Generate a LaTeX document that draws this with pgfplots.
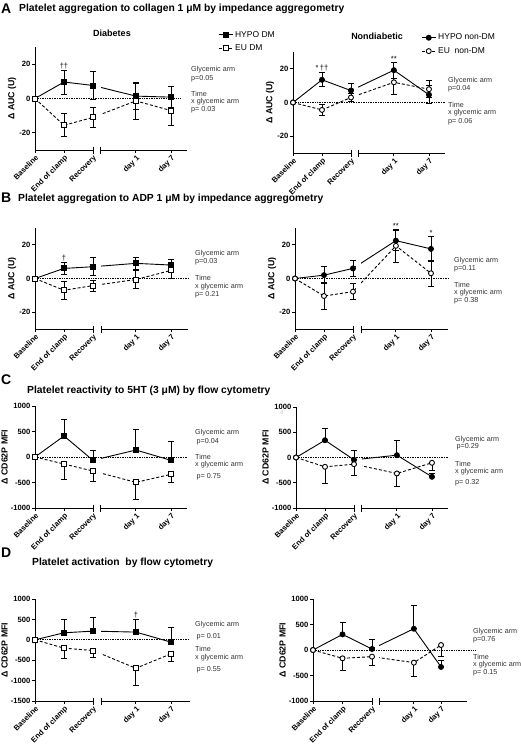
\documentclass[border=0pt]{standalone}
\usepackage{fontspec}
\setmainfont{Liberation Sans}
\usepackage{pgfplots}
\pgfplotsset{compat=1.18}

\newcommand{\tickfont}{\fontsize{7.6}{8.5}\selectfont\bfseries}
\newcommand{\labfont}{\fontsize{8.8}{9.5}\selectfont\bfseries}
\newcommand{\legfont}{\fontsize{8.5}{9.5}\selectfont}
\newcommand{\letfont}{\fontsize{14}{14}\selectfont\bfseries}
\newcommand{\titfont}{\fontsize{10.3}{11}\selectfont\bfseries}
\newcommand{\subfont}{\fontsize{9}{10}\selectfont\bfseries}

\tikzset{
  st/.style={anchor=west, inner sep=0pt, font=\fontsize{7.2}{8}\selectfont, text=black!80},
  sig/.style={anchor=south, inner sep=0.5pt, font=\fontsize{7.5}{8}\selectfont},
}

\pgfplotsset{
  panel/.style={
    scale only axis, width=152.5pt,
    xmin=0, xmax=5.26, clip=false,
    axis y line*=left, axis x line*=bottom,
    axis line style={-, line width=0.8pt},
    x axis line style={draw=none},
    tick align=outside, major tick length=3pt,
    every tick/.style={black, line width=0.8pt},
    xtick={0,1,2,3.48,4.69},
    xticklabels={Baseline,End of clamp,Recovery,day 1,day 7},
    xticklabel style={rotate=45, anchor=north east, font=\tickfont, inner sep=1pt},
    yticklabel style={font=\tickfont, inner sep=1.5pt},
    ylabel style={font=\labfont, yshift=-2pt},
    legend style={draw=none, fill=none, font=\legfont, inner sep=0pt, row sep=2pt, anchor=north west},
    legend cell align=left,
    legend image code/.code={\draw[mark repeat=2,mark phase=2,##1] plot coordinates {(0pt,0pt) (7pt,0pt) (14pt,0pt)};},
  },
  aucy/.style={ymin=-30, ymax=30, ytick={-20,0,20}, yticklabels={-20,0,20}, ylabel={Δ AUC (U)}},
  mfiy/.style={ymin=-1000, ymax=1000, ytick={-1000,-500,0,500,1000}, yticklabels={-1000,-500,0,500,1000}, ylabel={Δ CD62P MFI}},
  hypo/.style={black, solid, line width=0.9pt, mark=square*, mark size=2.5pt, mark options={solid, fill=black},
    error bars/y dir=both, error bars/y explicit,
    error bars/error bar style={solid, line width=0.8pt},
    error bars/error mark options={rotate=90, mark size=3pt, line width=0.8pt, solid}},
  eu/.style={black, line width=0.9pt, dash pattern=on 3pt off 2pt, mark=square*, mark size=2.5pt, mark options={solid, fill=white},
    error bars/y dir=both, error bars/y explicit,
    error bars/error bar style={solid, line width=0.8pt},
    error bars/error mark options={rotate=90, mark size=3pt, line width=0.8pt, solid}},
}

% ymin, ymax, break start, axis end, zero line end
\newcommand{\extras}[5]{%
  \fill[white] (axis cs:2.11,#1) rectangle (axis cs:#3,#2);
  \draw[line width=0.8pt] (axis cs:0,#1) -- (axis cs:2,#1);
  \draw[line width=0.8pt] (axis cs:#3,#1) -- (axis cs:#4,#1);
  \draw[line width=0.8pt] ([yshift=3.5pt]axis cs:2,#1) -- ([yshift=-3.5pt]axis cs:2,#1);
  \draw[line width=0.8pt] ([yshift=3.5pt]axis cs:#3,#1) -- ([yshift=-3.5pt]axis cs:#3,#1);
  \draw[densely dotted, line width=0.7pt] (axis cs:0,0) -- (axis cs:#5,0);
}

\newcommand{\stats}[8]{%
  \node[st] at (#1,-#2) {Glycemic arm};
  \node[st] at (#1,-#3) {#7};
  \node[st] at (#1,-#4) {Time};
  \node[st] at (#1,-#5) {x glycemic arm};
  \node[st] at (#1,-#6) {#8};
}

\begin{document}
\begin{tikzpicture}[x=1pt,y=1pt]
\useasboundingbox (0,0) rectangle (520,-745);

% ---------------- A ----------------
\node[anchor=west, inner sep=0pt, font=\letfont] at (1,-9) {A};
\node[anchor=west, inner sep=0pt, font=\titfont] at (19,-9) {Platelet aggregation to collagen 1 μM by impedance aggregometry};
\node[font=\subfont] at (112,-33) {Diabetes};
\node[font=\subfont] at (377,-36) {Nondiabetic};

\begin{axis}[panel, aucy, height=103pt, at={(35pt,-150pt)}, anchor=south west,
  legend style={at={(1.2,1.175)}}]
\addplot[hypo] coordinates {(0,0) +- (0,0) (1,9.6) +- (0,7) (2,7.6) +- (0,8) (3.48,1.4) +- (0,7.5) (4.69,0.8) +- (0,6)};
\addlegendentry{HYPO DM}
\addplot[eu] coordinates {(0,0) +- (0,0) (1,-15.6) +- (0,6.7) (2,-11) +- (0,6) (3.48,-1.4) +- (0,11) (4.69,-7) +- (0,8.4)};
\addlegendentry{EU DM}
\extras{-30}{30}{2.26}{5.26}{5.0}
\node[sig] at (axis cs:1,16.6) {††};
\end{axis}
\stats{191}{70}{79}{94}{102}{110}{p=0.05}{p= 0.03}

\begin{axis}[panel, aucy, height=101pt, at={(293pt,-153pt)}, anchor=south west,
  legend style={at={(0.84,1.2)}}]
\addplot[hypo, mark=*] coordinates {(0,0) +- (0,0) (1,13.5) +- (0,4.2) (2,7.1) +- (0,4.2) (3.48,19.2) +- (0,4.6) (4.69,4.6) +- (0,5.4)};
\addlegendentry{HYPO non-DM}
\addplot[eu, mark=*] coordinates {(0,0) +- (0,0) (1,-4.4) +- (0,3.3) (2,3) +- (0,2.5) (3.48,12) +- (0,7) (4.69,7.9) +- (0,5)};
\addlegendentry{EU\ \ non-DM}
\extras{-30}{30}{2.24}{5.26}{5.26}
\node[sig] at (axis cs:1,18.2) {*\,††};
\node[sig] at (axis cs:3.48,24) {**};
\end{axis}
\stats{448}{81}{89}{105}{113}{122}{p=0.04}{p= 0.06}

% ---------------- B ----------------
\node[anchor=west, inner sep=0pt, font=\letfont] at (1,-198) {B};
\node[anchor=west, inner sep=0pt, font=\titfont] at (18,-199) {Platelet aggregation to ADP 1 μM by impedance aggregometry};

\begin{axis}[panel, aucy, height=101pt, at={(35pt,-329pt)}, anchor=south west]
\addplot[hypo] coordinates {(0,0) +- (0,0) (1,6) +- (0,3.5) (2,7) +- (0,5.4) (3.48,9) +- (0,3.4) (4.69,8) +- (0,3.6)};
\addplot[eu] coordinates {(0,0) +- (0,0) (1,-7) +- (0,5.4) (2,-4.2) +- (0,3.2) (3.48,-0.6) +- (0,5.4) (4.69,4.8) +- (0,4.8)};
\extras{-30}{30}{2.28}{5.28}{5.28}
\node[sig] at (axis cs:1,10) {†};
\end{axis}
\stats{195}{254}{262}{278}{287}{295}{p=0.03}{p= 0.21}

\begin{axis}[panel, aucy, height=101pt, at={(295pt,-329pt)}, anchor=south west]
\addplot[hypo, mark=*] coordinates {(0,0) +- (0,0) (1,2) +- (0,5) (2,6) +- (0,5) (3.48,22.5) +- (0,6) (4.69,17.6) +- (0,7.3)};
\addplot[eu, mark=*] coordinates {(0,0) +- (0,0) (1,-10.4) +- (0,7.8) (2,-7.8) +- (0,4.7) (3.48,19.4) +- (0,10) (4.69,3.1) +- (0,7.5)};
\extras{-30}{30}{2.28}{5.28}{5.28}
\node[sig] at (axis cs:3.48,29) {**};
\node[sig] at (axis cs:4.69,25.2) {*};
\end{axis}
\stats{454}{261}{269}{285}{293}{301}{p=0.11}{p= 0.38}

% ---------------- C ----------------
\node[anchor=west, inner sep=0pt, font=\letfont] at (1,-380) {C};
\node[anchor=west, inner sep=0pt, font=\titfont] at (27,-391) {Platelet reactivity to 5HT (3 μM) by flow cytometry};

\begin{axis}[panel, mfiy, height=102pt, at={(35pt,-508pt)}, anchor=south west]
\addplot[hypo, error bars/y dir=plus] coordinates {(0,0) +- (0,0) (1,412) +- (0,327) (2,-65) +- (0,200) (3.48,137) +- (0,412) (4.69,-65) +- (0,365)};
\addplot[eu, error bars/y dir=minus] coordinates {(0,0) +- (0,0) (1,-137) +- (0,300) (2,-275) +- (0,200) (3.48,-497) +- (0,333) (4.69,-340) +- (0,163)};
\extras{-1000}{1000}{2.26}{5.26}{5.24}
\end{axis}
\stats{195}{433}{442}{457}{465}{477}{\hspace{1.5pt}p=0.04}{\hspace{1.5pt}p= 0.75}

\begin{axis}[panel, mfiy, height=101pt, at={(296pt,-508pt)}, anchor=south west]
\addplot[hypo, mark=*, error bars/y dir=plus] coordinates {(0,0) +- (0,0) (1,342) +- (0,237) (2,-46) +- (0,184) (3.48,46) +- (0,283) (4.69,-382) +- (0,60)};
\addplot[eu, mark=*, error bars/y dir=minus] coordinates {(0,0) +- (0,0) (1,-184) +- (0,329) (2,-132) +- (0,217) (3.48,-316) +- (0,263) (4.69,-105) +- (0,150)};
\extras{-1000}{1000}{2.26}{5.26}{5.26}
\end{axis}
\node[inner sep=0pt, font=\fontsize{5}{5}\selectfont, text=gray!60] at (282,-413) {0};
\stats{455}{440}{447}{464}{472}{483}{\hspace{1.5pt}p=0.29}{p= 0.32}

% ---------------- D ----------------
\node[anchor=west, inner sep=0pt, font=\letfont] at (1,-553) {D};
\node[anchor=west, inner sep=0pt, font=\titfont] at (32,-563) {Platelet activation~ by flow cytometry};

\begin{axis}[panel, mfiy, ymin=-1500, ytick={-1500,-1000,-500,0,500,1000}, yticklabels={-1500,-1000,-500,0,500,1000},
  height=102pt, at={(35pt,-701pt)}, anchor=south west]
\addplot[hypo, error bars/y dir=plus] coordinates {(0,0) +- (0,0) (1,172) +- (0,320) (2,213) +- (0,344) (3.48,189) +- (0,303) (4.69,-57) +- (0,368)};
\addplot[eu, error bars/y dir=minus] coordinates {(0,0) +- (0,0) (1,-205) +- (0,262) (2,-262) +- (0,164) (3.48,-697) +- (0,410) (4.69,-344) +- (0,189)};
\extras{-1500}{1000}{2.28}{5.34}{5.3}
\node[sig] at (axis cs:3.48,510) {†};
\end{axis}
\stats{195}{625}{637}{649}{658}{670}{\hspace{1.5pt}p= 0.01}{\hspace{1.5pt}p= 0.55}

\begin{axis}[panel, mfiy, width=154pt, xmax=5.22, xtick={0,1,2,3.42,4.34},
  height=102pt, at={(313pt,-701pt)}, anchor=south west]
\addplot[hypo, mark=*, error bars/y dir=plus] coordinates {(0,0) +- (0,0) (1,306) +- (0,229) (2,20) +- (0,195) (3.42,417) +- (0,463) (4.34,-332) +- (0,137)};
\addplot[eu, mark=*, error bars/y dir=minus] coordinates {(0,0) +- (0,0) (1,-163) +- (0,228) (2,-130) +- (0,176) (3.42,-248) +- (0,261) (4.34,98) +- (0,228)};
\extras{-1000}{1000}{2.24}{5.22}{5.5}
\end{axis}
\stats{473}{632}{640}{657}{665}{673}{p=0.76}{p= 0.15}

\end{tikzpicture}
\end{document}
